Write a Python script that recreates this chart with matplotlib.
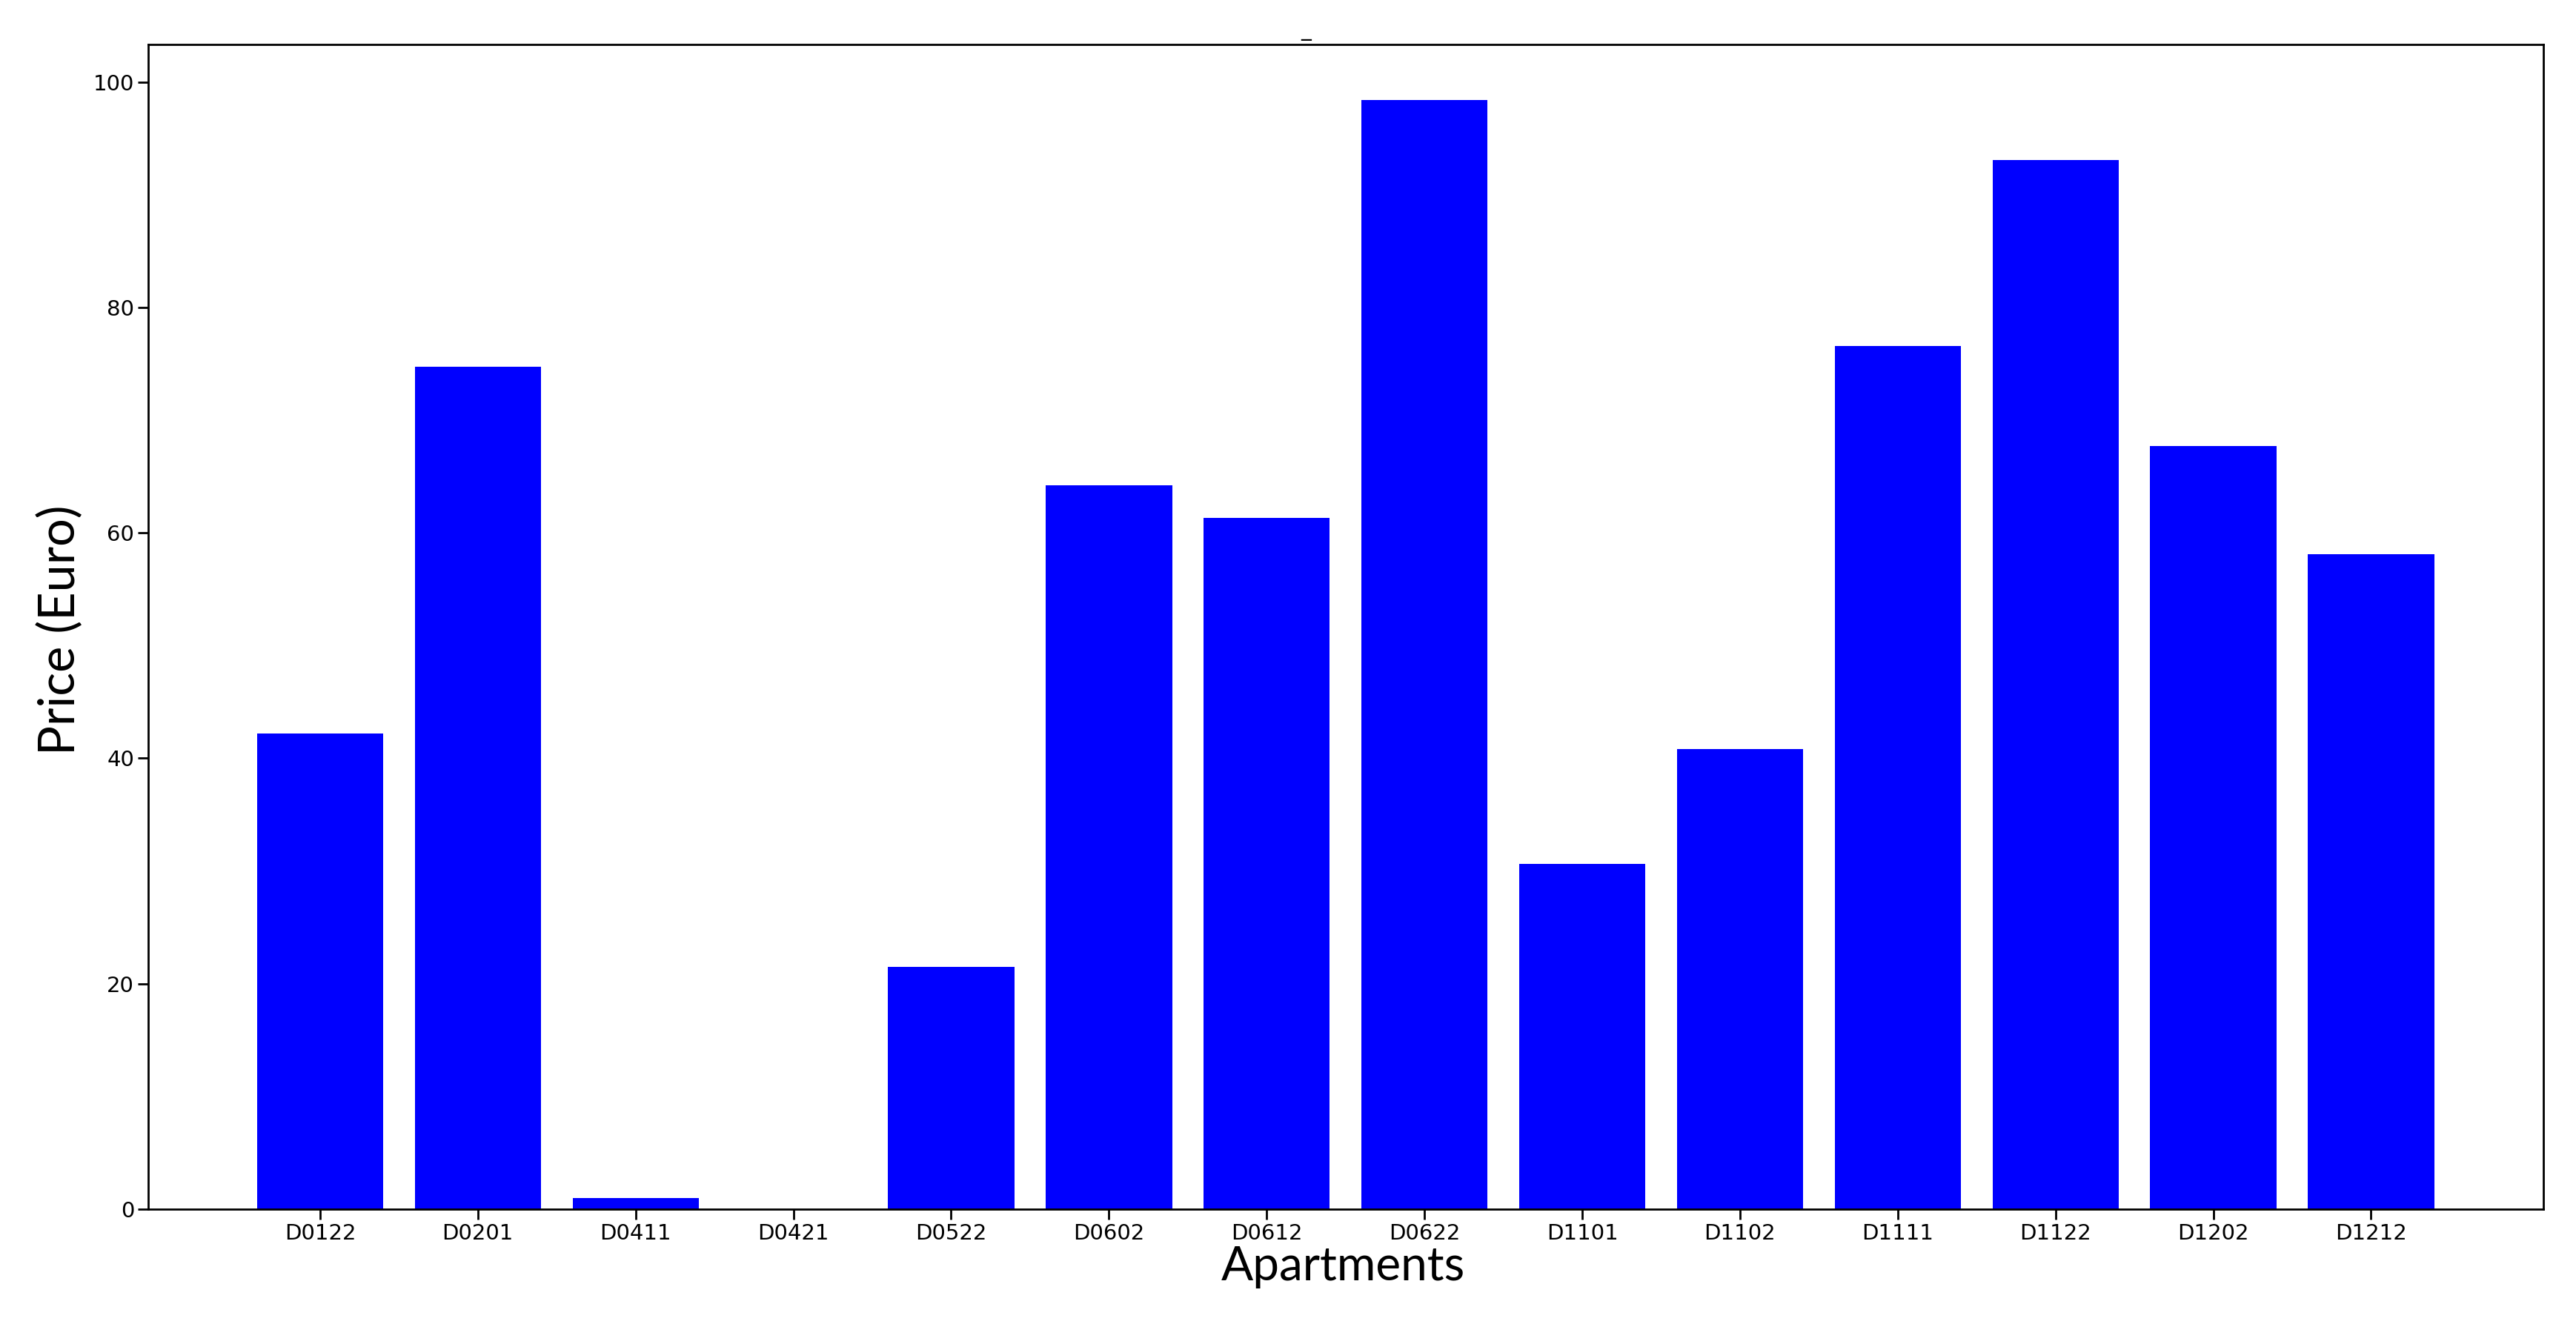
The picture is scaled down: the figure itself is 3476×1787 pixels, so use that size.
import matplotlib
matplotlib.use('Agg')
import matplotlib.pyplot as plt

apartments = ['D0122', 'D0201', 'D0411', 'D0421', 'D0522', 'D0602', 'D0612',
              'D0622', 'D1101', 'D1102', 'D1111', 'D1122', 'D1202', 'D1212']
prices = [42.2, 74.7, 1.0, 0.0, 21.5, 64.2, 61.3,
          98.4, 30.6, 40.8, 76.6, 93.1, 67.7, 58.1]

fig = plt.figure(figsize=(34.76, 17.87), dpi=100)
ax = fig.add_axes([0.0575, 0.0867, 0.9297, 0.8797])

ax.bar(apartments, prices, color='blue')
ax.text(0.4835, 1.003, '_', transform=ax.transAxes, fontsize=20,
        ha='center', va='bottom')
ax.tick_params(labelsize=21, length=10, width=2)
for s in ax.spines.values():
    s.set_linewidth(2)

fig.text(0.5215, 0.043, 'Apartments', fontsize=46, family='Lato',
         ha='center', va='center')
fig.text(0.0236, 0.524, 'Price (Euro)', fontsize=48, family='Lato',
         ha='center', va='center', rotation=90)

fig.savefig('out.png')
